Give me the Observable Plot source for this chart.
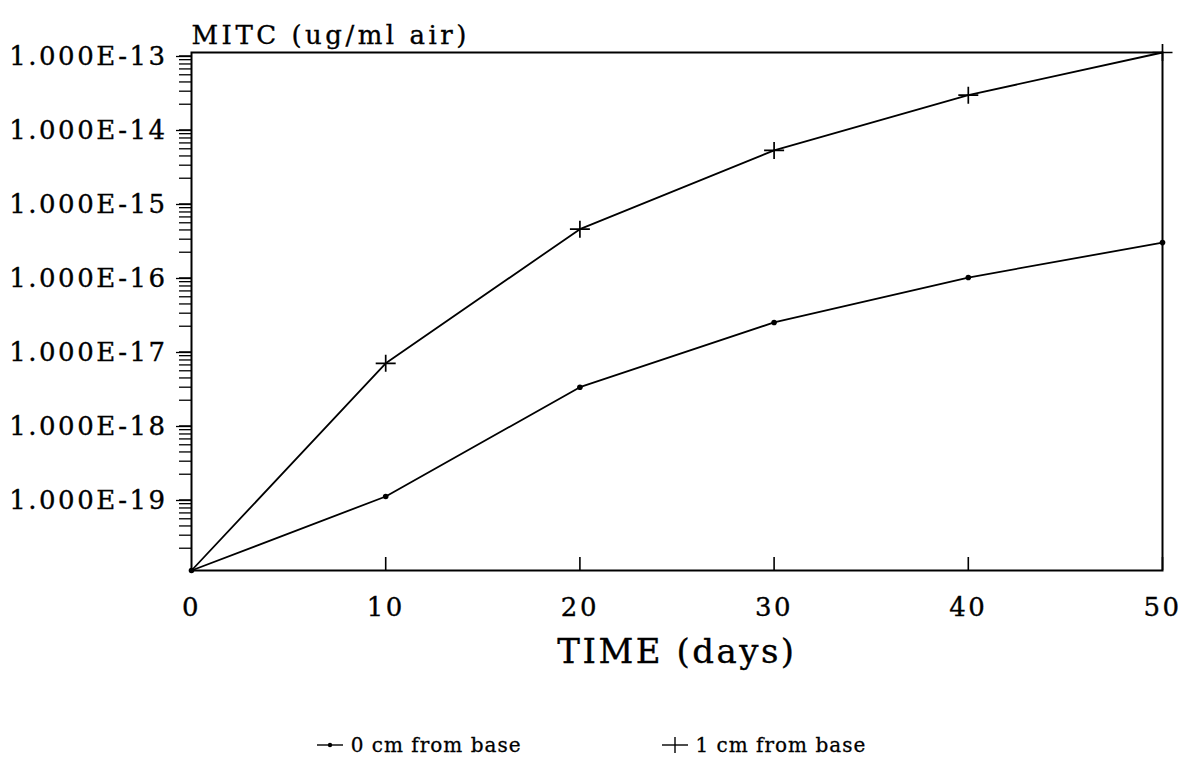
<!DOCTYPE html>
<html><head><meta charset="utf-8">
<script src="https://cdn.jsdelivr.net/npm/d3@7"></script>
<script src="https://cdn.jsdelivr.net/npm/@observablehq/plot@0.6"></script>
<style>
body{margin:0;background:#fff;font-family:"DejaVu Serif",serif;color:#000;}
#wrap{position:relative;width:1183px;height:761px;}
#legend{position:absolute;left:0;top:733px;width:1183px;display:flex;justify-content:center;gap:140px;font-size:20px;letter-spacing:1px;-webkit-text-stroke:0.3px #000;}
.item{display:flex;align-items:center;gap:8px;}
</style></head><body><div id="wrap"><div id="chart"></div><div id="legend"></div></div>
<script>
const days = [0, 10, 20, 30, 40, 50];
const cm0 = [1e-20, 1e-19, 3.0e-18, 2.25e-17, 9.1e-17, 2.7e-16];
const cm1 = [1e-20, 6.3e-18, 4.1e-16, 4.75e-15, 2.65e-14, 1e-13];
const seriesNames = ["0 cm from base", "1 cm from base"];
const xTicks = [0, 10, 20, 30, 40, 50];
const yTicks = [1e-13, 1e-14, 1e-15, 1e-16, 1e-17, 1e-18, 1e-19];
const yTickLabels = ["1.000E-13", "1.000E-14", "1.000E-15", "1.000E-16", "1.000E-17", "1.000E-18", "1.000E-19"];
const yTitle = "MITC (ug/ml air)";
const xTitle = "TIME (days)";

const decadeBases = [1e-20, 1e-19, 1e-18, 1e-17, 1e-16, 1e-15, 1e-14];
const yMinor = decadeBases.flatMap(b => [2,3,4,5,6,7,8,9].map(m => m * b));

const rows = days.flatMap((d, i) => [
  {day: d, value: cm0[i], series: seriesNames[0]},
  {day: d, value: cm1[i], series: seriesNames[1]}
]);

const plusSymbol = {
  draw(context, size) {
    const r = Math.sqrt(size / Math.PI);
    context.moveTo(-r, 0); context.lineTo(r, 0);
    context.moveTo(0, -r * 0.85); context.lineTo(0, r * 0.85);
  }
};

const font = '"DejaVu Serif", serif';
const plot = Plot.plot({
  width: 1183, height: 700,
  marginLeft: 191, marginRight: 21, marginTop: 52, marginBottom: 130,
  style: {fontFamily: font, fontSize: "26px", color: "#000", background: "#fff", overflow: "visible"},
  x: {domain: [0, 50]},
  y: {type: "log", domain: [1e-20, 1e-13]},
  marks: [
    Plot.axisY({ticks: yMinor, tickSize: 12, tickFormat: () => "", label: null, strokeWidth: 1.3}),
    Plot.axisY({ticks: yTicks, tickSize: 15, tickPadding: 9, label: null, fontSize: 26,
      tickFormat: d => yTickLabels[yTicks.indexOf(d)], dy: 4, strokeWidth: 1.3}),
    Plot.axisX({ticks: xTicks, tickSize: 0, tickPadding: 27, label: null, fontSize: 26}),
    Plot.tickX(xTicks.slice(1), {x: d => d, insetTop: 505, stroke: "#000", strokeWidth: 1.6}),
    Plot.frame({stroke: "#000", strokeWidth: 2}),
    Plot.line(rows, {x: "day", y: "value", z: "series", stroke: "#000", strokeWidth: 1.8}),
    Plot.dot(rows.filter(d => d.series === seriesNames[0]), {x: "day", y: "value", r: 2.8, fill: "#000"}),
    Plot.dot(rows.filter(d => d.series === seriesNames[1] && d.day > 0), {x: "day", y: "value", r: 10, symbol: plusSymbol, stroke: "#000", fill: "none", strokeWidth: 1.7}),
    Plot.text([yTitle], {text: d => d, frameAnchor: "top-left", textAnchor: "start", dy: -27, fontSize: 26, fill: "#000"}),
    Plot.text([xTitle], {text: d => d, frameAnchor: "bottom", dy: 92, fontSize: 34, fill: "#000"})
  ]
});
const svg = d3.select(plot);
svg.selectAll("text").style("stroke", "#000").style("stroke-width", "0.35px").style("letter-spacing", "2.5px");
svg.selectAll("text").filter(function(){ return this.textContent === yTitle; }).style("letter-spacing", "3.5px");
document.getElementById("chart").appendChild(plot);

const legend = document.getElementById("legend");
seriesNames.forEach((name, i) => {
  const item = document.createElement("div");
  item.className = "item";
  const marker = i === 0
    ? '<circle cx="13" cy="10" r="2.2" fill="#000"/>'
    : '<path d="M13,2V18" stroke="#000" stroke-width="1.4"/>';
  item.innerHTML = `<svg width="26" height="20"><path d="M0,10H26" stroke="#000" stroke-width="1.4"/>${marker}</svg><span>${name}</span>`;
  legend.appendChild(item);
});
</script></body></html>
